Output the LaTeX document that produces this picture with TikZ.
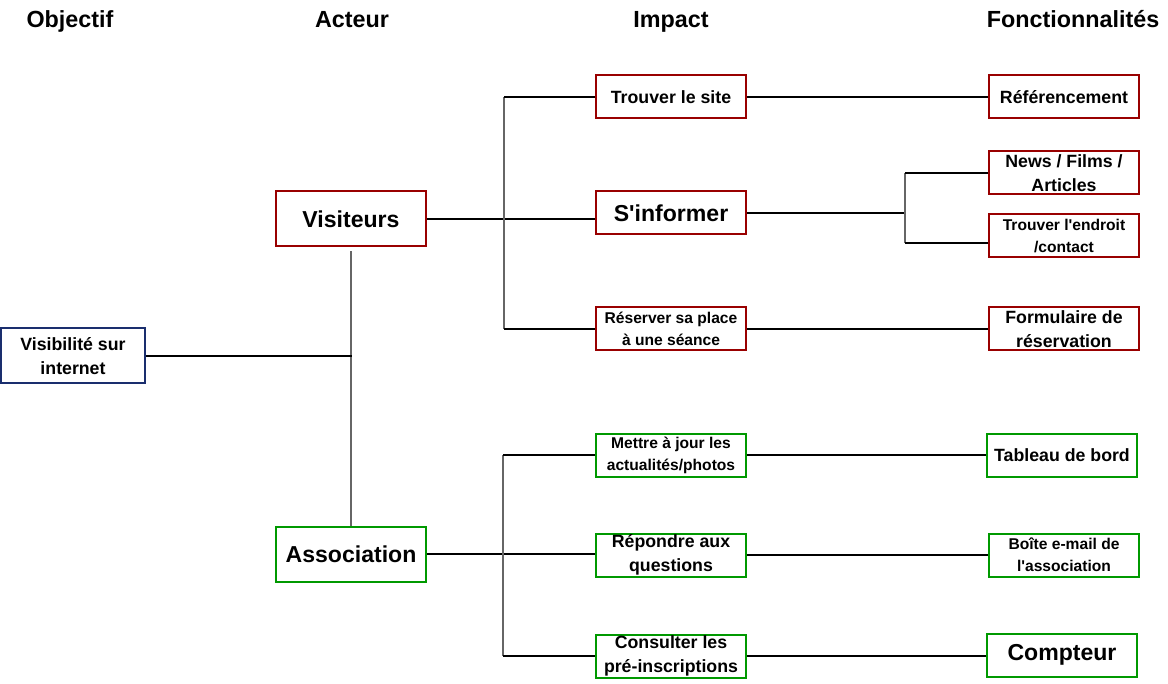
\documentclass[tikz,border=0pt]{standalone}
\usepackage{fontspec}
\setmainfont{Liberation Sans}
\usetikzlibrary{positioning}

\definecolor{rouge}{RGB}{153,0,0}
\definecolor{vert}{RGB}{0,153,0}
\definecolor{marine}{RGB}{26,46,110}

\begin{document}
\begin{tikzpicture}[x=0.75pt,y=-0.75pt,
  titre/.style={font=\fontsize{17.5}{21}\selectfont\bfseries,anchor=base},
  boite/.style={draw=#1,line width=1.5pt,minimum width=112.5pt,minimum height=32.25pt,inner sep=0pt,align=center},
  acteur/.style={boite=#1,minimum height=41.25pt},
  grand/.style={font=\fontsize{17.3}{21}\selectfont\bfseries},
  moyen/.style={font=\fontsize{13.3}{18}\selectfont\bfseries},
  petit/.style={font=\fontsize{11.7}{16.5}\selectfont\bfseries},
  lien/.style={line width=1.5pt},
  tige/.style={line width=0.8pt,black!60}]
  \useasboundingbox (0,0) rectangle (1168,684);

  % titres des colonnes
  \node[titre] (tobj) at (70,28) {Objectif};
  \node[titre] (tact) at (352,28) {Acteur};
  \node[titre] (timp) at (671,28) {Impact};
  \node[titre] (tfon) at (1073,28) {Fonctionnalités};

  % objectif et acteurs
  \node[acteur=marine,moyen,minimum width=108pt] (obj) at (73,356) {Visibilité sur\\internet};
  \node[acteur=rouge,grand] (vis) at (351,219) {Visiteurs};
  \node[acteur=vert,grand] (asso) at (351,554) {Association};

  % impacts
  \node[boite=rouge,moyen] (site) at (671,97) {Trouver le site};
  \node[boite=rouge,grand] (info) at (671,213) {S\textquotesingle informer};
  \node[boite=rouge,petit] (resa) at (671,329) {Réserver sa place\\à une séance};
  \node[boite=vert,petit] (maj) at (671,455) {Mettre à jour les\\actualités/photos};
  \node[boite=vert,moyen] (rep) at (671,555) {Répondre aux\\questions};
  \node[boite=vert,moyen] (cons) at (671,656) {Consulter les\\pré-inscriptions};

  % fonctionnalites
  \node[boite=rouge,moyen] (refe) at (1064,97) {Référencement};
  \node[boite=rouge,moyen] (news) at (1064,173) {News / Films /\\Articles};
  \node[boite=rouge,petit] (lieu) at (1064,236) {Trouver l\textquotesingle endroit\\/contact};
  \node[boite=rouge,moyen] (form) at (1064,329) {Formulaire de\\réservation};
  \node[boite=vert,moyen] (tabl) at (1062,455) {Tableau de bord};
  \node[boite=vert,petit] (mail) at (1064,555) {Boîte e-mail de\\l\textquotesingle association};
  \node[boite=vert,grand] (cpt) at (1062,655) {Compteur};

  % points de jonction
  \coordinate (jact) at (352,356);
  \coordinate (jvis) at (504,219);
  \coordinate (jasso) at (503,554);
  \coordinate (jinfo) at (905,213);
  \coordinate (jlieu) at (905,243);

  % objectif -> acteurs
  \draw[tige] ([yshift=-3pt]vis.south) -- (asso.north);
  \draw[lien] (obj.east) -- (jact);

  % visiteurs -> impacts
  \draw[lien] (vis.east) -- (vis.east -| info.west);
  \draw[tige] (jvis |- site.west) -- (jvis |- resa.west);
  \draw[lien] (jvis |- site.west) -- (site.west);
  \draw[lien] (jvis |- resa.west) -- (resa.west);

  % association -> impacts
  \draw[lien] (asso.east) -- (asso.east -| rep.west);
  \draw[tige] (jasso |- maj.west) -- (jasso |- cons.west);
  \draw[lien] (jasso |- maj.west) -- (maj.west);
  \draw[lien] (jasso |- cons.west) -- (cons.west);

  % impacts -> fonctionnalites
  \draw[lien] (site.east) -- (refe.west);
  \draw[lien] (info.east) -- (jinfo);
  \draw[tige] (jinfo |- news.west) -- (jlieu);
  \draw[lien] (jinfo |- news.west) -- (news.west);
  \draw[lien] (jlieu) -- (jlieu -| lieu.west);
  \draw[lien] (resa.east) -- (form.west);
  \draw[lien] (maj.east) -- (maj.east -| tabl.west);
  \draw[lien] (rep.east) -- (rep.east -| mail.west);
  \draw[lien] (cons.east) -- (cons.east -| cpt.west);
\end{tikzpicture}
\end{document}
